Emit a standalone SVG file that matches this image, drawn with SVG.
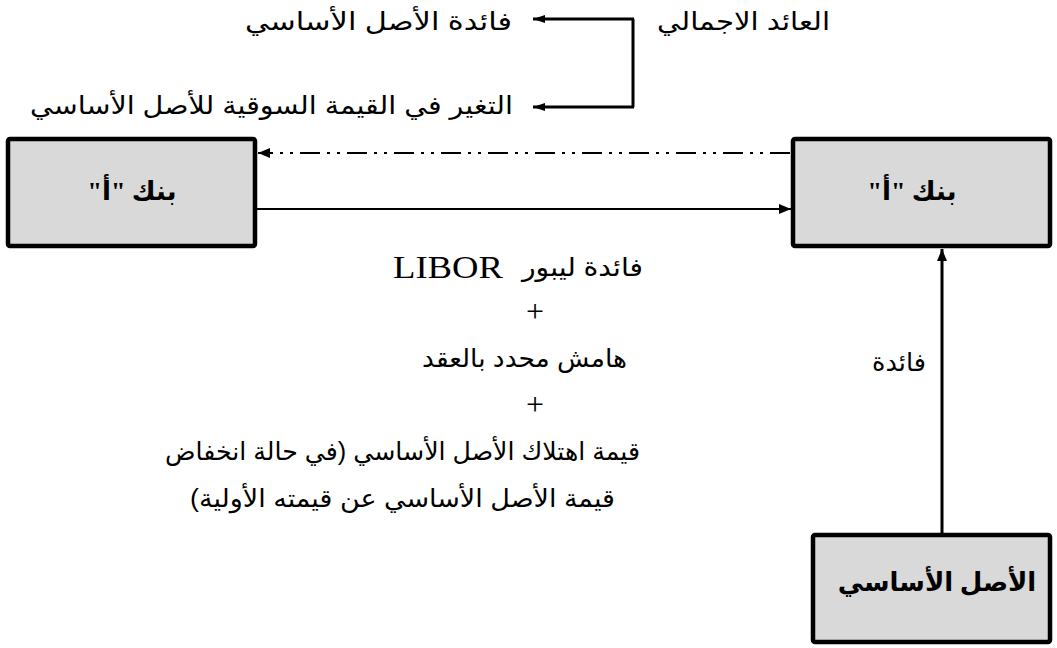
<svg xmlns="http://www.w3.org/2000/svg" width="1057" height="648" viewBox="0 0 1057 648">
<style>
.box{fill:#d9d9d9;stroke:#000;stroke-width:4.5;}
.ar{font-family:"Liberation Sans","DejaVu Sans",sans-serif;font-size:25px;fill:#000;}
.bt{font-family:"Liberation Serif","DejaVu Sans",serif;font-weight:bold;font-size:26px;fill:#000;}
.rm{font-family:"Liberation Serif",serif;font-size:32px;fill:#000;}
.ln{stroke:#000;fill:none;}
</style>
<defs>
<marker id="ah" viewBox="0 0 12 10" refX="12" refY="5" markerWidth="12" markerHeight="10" markerUnits="userSpaceOnUse" orient="auto">
<path d="M0,0 L12,5 L0,10 Z" fill="#000"/>
</marker>
<marker id="ahs" viewBox="0 0 12 8" refX="12" refY="4" markerWidth="12" markerHeight="8" markerUnits="userSpaceOnUse" orient="auto">
<path d="M0,0 L12,4 L0,8 Z" fill="#000"/>
</marker>
</defs>
<g id="connectors">
<path class="ln" d="M633,19 L633,107" stroke-width="3"/>
<path class="ln" d="M634,19 L533,19" stroke-width="3" marker-end="url(#ahs)"/>
<path class="ln" d="M634,107 L533,107" stroke-width="3" marker-end="url(#ahs)"/>
<path class="ln" d="M790,153 L258,153" stroke-width="2" stroke-dasharray="20 7 3 7 3 7" marker-end="url(#ah)"/>
<path class="ln" d="M257,209 L791,209" stroke-width="2" marker-end="url(#ah)"/>
<path class="ln" d="M942,534 L942,249" stroke-width="3" marker-end="url(#ah)"/>
</g>
<g id="label-total">
<text class="ar" x="830" y="30" direction="rtl" textLength="173" lengthAdjust="spacingAndGlyphs">العائد الاجمالي</text>
</g>
<g id="label-interest-asset">
<text class="ar" x="512" y="30" direction="rtl" textLength="267" lengthAdjust="spacingAndGlyphs">فائدة الأصل الأساسي</text>
</g>
<g id="label-change">
<text class="ar" x="513" y="114" direction="rtl" textLength="483" lengthAdjust="spacingAndGlyphs">التغير في القيمة السوقية للأصل الأساسي</text>
</g>
<g id="bank-left">
<rect class="box" x="8" y="139" width="247" height="107" rx="2"/>
<text class="bt" x="132" y="200" text-anchor="middle" direction="rtl">بنك "أ"</text>
</g>
<g id="bank-right">
<rect class="box" x="793" y="139" width="257" height="107" rx="2"/>
<text class="bt" x="912" y="200" text-anchor="middle" direction="rtl">بنك "أ"</text>
</g>
<g id="underlying">
<rect class="box" x="813" y="535" width="237" height="107" rx="2"/>
<text class="bt" x="937" y="591" text-anchor="middle" direction="rtl">الأصل الأساسي</text>
</g>
<g id="label-interest">
<text class="ar" x="926" y="371" direction="rtl" textLength="54" lengthAdjust="spacingAndGlyphs">فائدة</text>
</g>
<g id="label-payments">
<text class="rm" x="393" y="278" textLength="110" lengthAdjust="spacingAndGlyphs">LIBOR</text>
<text class="ar" x="643" y="276" direction="rtl" textLength="121" lengthAdjust="spacingAndGlyphs">فائدة ليبور</text>
<text class="rm" x="535" y="322" text-anchor="middle">+</text>
<text class="ar" x="627" y="367" direction="rtl" textLength="205" lengthAdjust="spacingAndGlyphs">هامش محدد بالعقد</text>
<text class="rm" x="535" y="415" text-anchor="middle">+</text>
<text class="ar" x="640" y="460" direction="rtl" textLength="475" lengthAdjust="spacingAndGlyphs">قيمة اهتلاك الأصل الأساسي (في حالة انخفاض</text>
<text class="ar" x="615" y="507" direction="rtl" textLength="425" lengthAdjust="spacingAndGlyphs">قيمة الأصل الأساسي عن قيمته الأولية)</text>
</g>
</svg>
